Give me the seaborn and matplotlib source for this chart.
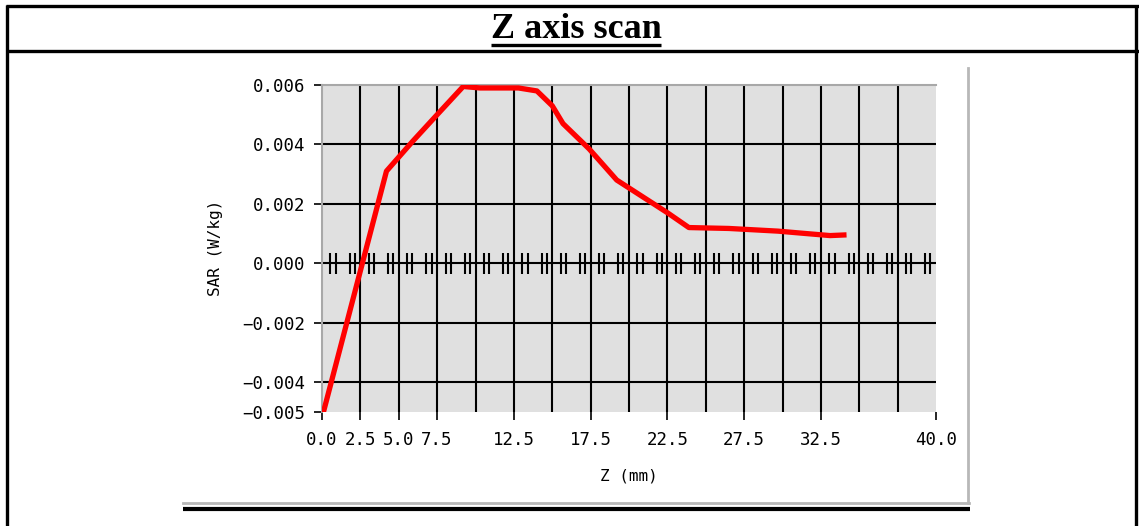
import numpy as np
import matplotlib
matplotlib.use("Agg")
import matplotlib.pyplot as plt
from matplotlib.lines import Line2D
import seaborn as sns

# scan positions (mm) and SAR values (W/kg)
z_mm = [0.1, 4.2, 5.9, 7.5, 9.2, 10.3, 12.8, 14.0, 15.0, 15.7, 17.4,
        19.2, 20.1, 22.5, 23.9, 26.5, 29.7, 31.5, 33.1, 34.0]
sar = [-0.0050, 0.0031, 0.0041, 0.0050, 0.00595, 0.0059, 0.0059, 0.0058,
       0.0053, 0.0047, 0.00385, 0.0028, 0.0025, 0.0017, 0.0012, 0.00117,
       0.00108, 0.0010, 0.00093, 0.00095]

x_ticks = [0.0, 2.5, 5.0, 7.5, 12.5, 17.5, 22.5, 27.5, 32.5, 40.0]
x_labels = ["0.0", "2.5", "5.0", "7.5", "12.5", "17.5", "22.5", "27.5", "32.5", "40.0"]
y_ticks = [0.006, 0.004, 0.002, 0.000, -0.002, -0.004, -0.005]
y_labels = ["0.006", "0.004", "0.002", "0.000", "\u22120.002", "\u22120.004", "\u22120.005"]
v_grid = np.arange(2.5, 40.0, 2.5)
h_grid = [-0.004, -0.002, 0.0, 0.002, 0.004]

W, H = 1139, 526


def fx(x):
    return x / W


def fy(y):
    return 1 - y / H


fig = plt.figure(figsize=(W / 100, H / 100), dpi=100)
fig.patch.set_facecolor("white")

# table frame around the chart
frame = dict(color="black", lw=2.4, transform=fig.transFigure, solid_capstyle="butt")
fig.add_artist(Line2D([fx(6), fx(1139)], [fy(6), fy(6)], **frame))
fig.add_artist(Line2D([fx(6), fx(1139)], [fy(51), fy(51)], **frame))
fig.add_artist(Line2D([fx(7), fx(7)], [fy(5), fy(526)], **frame))
fig.add_artist(Line2D([fx(1136), fx(1136)], [fy(5), fy(526)], **frame))

# picture border (shadow) and the thick rule below it
fig.add_artist(Line2D([fx(968), fx(968)], [fy(68), fy(503)], color="#b8b8b8", lw=2,
                      transform=fig.transFigure))
fig.add_artist(Line2D([fx(183), fx(969)], [fy(503), fy(503)], color="#b8b8b8", lw=2,
                      transform=fig.transFigure))
fig.add_artist(Line2D([fx(183), fx(970)], [fy(509), fy(509)], color="black", lw=3,
                      transform=fig.transFigure, solid_capstyle="butt"))

title = fig.text(fx(576), fy(29), "Z axis scan", ha="center", va="center",
                 family="Liberation Serif", weight="bold", fontsize=26)

ax = fig.add_axes([fx(322), fy(411.7), fx(936) - fx(322), (411.7 - 85) / H])
ax.set_facecolor("#e0e0e0")

for v in v_grid:
    ax.axvline(v, color="black", lw=1.5, zorder=1)
for h in h_grid:
    ax.axhline(h, color="black", lw=1.5, zorder=1)

# little tick pairs along the zero line
tick_c = np.arange(0.72, 40.0, 1.25)
tick_pos = np.concatenate([tick_c - 0.17, tick_c + 0.17])
ax.vlines(tick_pos, -0.00035, 0.00035, color="black", lw=1.5, zorder=1)

sns.lineplot(x=z_mm, y=sar, ax=ax, color="red", lw=3.8, sort=False, zorder=3)

ax.set_xlim(0, 40)
ax.set_ylim(-0.005, 0.006)
ax.set_xticks(x_ticks)
ax.set_xticklabels(x_labels)
ax.set_yticks(y_ticks)
ax.set_yticklabels(y_labels)

mono = "DejaVu Sans Mono"
for lab in ax.get_xticklabels() + ax.get_yticklabels():
    lab.set_family(mono)
    lab.set_fontsize(12.5)
ax.tick_params(axis="both", direction="out", length=6, width=1.2, color="black")
ax.tick_params(axis="x", pad=8)
ax.tick_params(axis="y", pad=6)

ax.set_xlabel("Z (mm)", family=mono, fontsize=11.5, labelpad=14)
ax.set_ylabel("SAR (W/kg)", family=mono, fontsize=11.5, labelpad=14)

for side in ["right", "bottom"]:
    ax.spines[side].set_visible(False)
for side in ["left", "top"]:
    ax.spines[side].set_color("#a8a8a8")
    ax.spines[side].set_linewidth(1.5)

# underline under the title
fig.canvas.draw()
bb = title.get_window_extent()
fig.add_artist(Line2D([bb.x0 / W, bb.x1 / W], [fy(44.5), fy(44.5)], color="black", lw=2.4,
                      transform=fig.transFigure, solid_capstyle="butt"))

fig.savefig("out.png", dpi=100)
